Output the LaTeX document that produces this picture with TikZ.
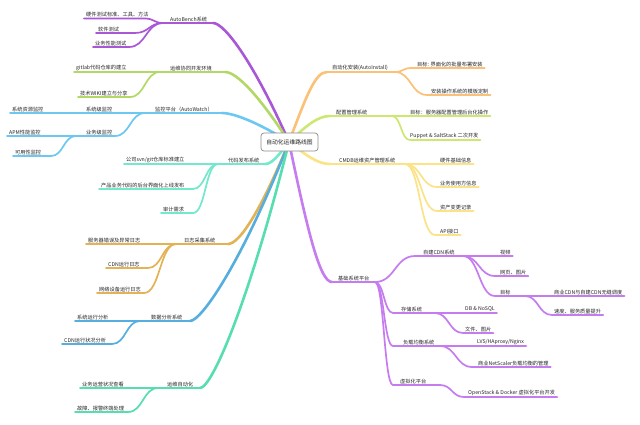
\documentclass[tikz,border=0pt]{standalone}
\usepackage{fontspec}
\setmainfont{Noto Sans CJK SC}
\usetikzlibrary{calc}
\definecolor{cA1}{HTML}{A957D6}
\definecolor{cA2}{HTML}{B2D865}
\definecolor{cA3}{HTML}{6CC8F0}
\definecolor{cA4}{HTML}{72E8CC}
\definecolor{cA5}{HTML}{E3B254}
\definecolor{cA6}{HTML}{55AEDD}
\definecolor{cA7}{HTML}{56DDB0}
\definecolor{cB1}{HTML}{FBC177}
\definecolor{cB2}{HTML}{CDE872}
\definecolor{cB3}{HTML}{FBE387}
\definecolor{cB4}{HTML}{C57CF0}
\newcommand\lcv[4]{\draw[sub,#1] (#2) -- ($(#3 |- #2)+(-#4,0)$) .. controls ($(#3 |- #2)+(-#4*0.5,0)$) and ($(#3)+(-#4*0.5,0)$) .. (#3);}
\newcommand\rcv[4]{\draw[sub,#1] (#3) .. controls ($(#3)+(#4*0.5,0)$) and ($(#3 |- #2)+(#4*0.5,0)$) .. ($(#3 |- #2)+(#4,0)$) -- (#2);}
\newcommand\ltr[5]{\draw[trunk,#1] (#2) .. controls ($(#2)+(#3,0)$) and ($(C)+(#4,#5)$) .. (C);}
\newcommand\rtr[4]{\draw[trunk,#1] (C) .. controls ($(C)+(#3,#4)$) and ($(#2)+(-12,0)$) .. (#2);}
\begin{document}
\begin{tikzpicture}[x=1pt,y=-1pt,
  lbl/.style={font=\fontsize{5.2}{6}\selectfont, text=black!85, inner xsep=2pt, inner ysep=1pt, anchor=south west},
  sub/.style={line width=1.7pt, line cap=round},
  trunk/.style={line width=2.6pt, line cap=round},
  rootbox/.style={draw=black!45, fill=white, rounded corners=3pt, line width=0.7pt, minimum width=57pt, minimum height=18pt, inner sep=1pt, font=\fontsize{5.8}{7}\selectfont, text=black!85}
]
\fill[white] (0,0) rectangle (640,424);
\useasboundingbox (0,0) rectangle (640,424);
\coordinate (C) at (289,142);
% ---------- left level 1 ----------
\node[lbl] (A1) at (168,23) {AutoBench系统};
\coordinate (JA1) at (163,23); \coordinate (RA1) at (213,23);
\node[lbl] (a1) at (84,18.5) {硬件测试标准、工具、方法};
\node[lbl] (a2) at (96,33) {软件测试};
\node[lbl] (a3) at (93,47) {业务性能测试};
\node[lbl] (A2) at (168,72) {运维协同开发环境};
\coordinate (JA2) at (160,72); \coordinate (RA2) at (225,72);
\node[lbl] (b1) at (74,72) {gitlab代码仓库的建立};
\node[lbl] (b2) at (78,97) {技术WIKI建立与分享};
\node[lbl] (A3) at (153,113) {监控平台（AutoWatch）};
\coordinate (JA3) at (145,113); \coordinate (RA3) at (222,113);
\node[lbl] (c1) at (84,113) {系统级监控};
\coordinate (Jc1) at (78,113);
\node[lbl] (c2) at (84,136) {业务级监控};
\coordinate (Jc2) at (76,136);
\node[lbl] (c11) at (10,113) {系统资源监控};
\node[lbl] (c21) at (7,136) {APM性能监控};
\node[lbl] (c22) at (13,156) {可用性监控};
\node[lbl] (A4) at (226,164) {代码发布系统};
\coordinate (JA4) at (218,164); \coordinate (RA4) at (265,164);
\node[lbl] (d1) at (124,164) {公司svn/git仓库标准建立};
\node[lbl] (d2) at (99,189) {产品业务代码的后台界面化上线发布};
\node[lbl] (d3) at (161,213) {审计需求};
\node[lbl] (A5) at (182,244) {日志采集系统};
\coordinate (JA5) at (176,244); \coordinate (RA5) at (228,244);
\node[lbl] (e1) at (86,244) {服务器错误及异常日志};
\node[lbl] (e2) at (106,268) {CDN运行日志};
\node[lbl] (e3) at (97,293) {网络设备运行日志};
\node[lbl] (A6) at (149,321) {数据分析系统};
\coordinate (JA6) at (140,321); \coordinate (RA6) at (190,321);
\node[lbl] (f1) at (75,321) {系统运行分析};
\node[lbl] (f2) at (62,344) {CDN运行状况分析};
\node[lbl] (A7) at (165,388) {运维自动化};
\coordinate (JA7) at (158,388); \coordinate (RA7) at (200,388);
\node[lbl] (g1) at (80,388) {业务运营状况查看};
\node[lbl] (g2) at (75,412) {故障、报警终端处理};
% ---------- right level 1 ----------
\node[lbl] (B1) at (330,72) {自动化安装(AutoInstall)};
\coordinate (LB1) at (327,72); \coordinate (JB1) at (395,72);
\node[lbl] (h1) at (415,68) {目标: 界面化的批量布署安装};
\node[lbl] (h2) at (429,95) {安装操作系统的模板定制};
\node[lbl] (B2) at (334,116) {配置管理系统};
\coordinate (LB2) at (330,116); \coordinate (JB2) at (392,116);
\node[lbl] (i1) at (408,116) {目标：服务器配置管理后台化操作};
\node[lbl] (i2) at (408,140) {Puppet \& SaltStack 二次开发};
\node[lbl] (B3) at (337,164) {CMDB运维资产管理系统};
\coordinate (LB3) at (330,164); \coordinate (JB3) at (405,164);
\node[lbl] (j1) at (438,164) {硬件基础信息};
\node[lbl] (j2) at (438,187) {业务使用方信息};
\node[lbl] (j3) at (438,211) {资产变更记录};
\node[lbl] (j4) at (438,235) {API接口};
\node[lbl] (B4) at (336,282) {基础系统平台};
\coordinate (LB4) at (332,282); \coordinate (JB4) at (375,282);
\node[lbl] (k1) at (421,256) {自建CDN系统};
\coordinate (Jk1) at (463,256);
\node[lbl] (k11) at (498,256) {视频};
\node[lbl] (k12) at (498,276) {网页、图片};
\node[lbl] (k13) at (498,296) {目标};
\coordinate (Jk13) at (525,296);
\node[lbl] (k131) at (552,296) {商业CDN与自建CDN无缝调度};
\node[lbl] (k132) at (552,315) {速度、服务质量提升};
\node[lbl] (k2) at (399,313) {存储系统};
\coordinate (Jk2) at (435,313);
\node[lbl] (k21) at (463,313) {DB \& NoSQL};
\node[lbl] (k22) at (463,333) {文件、图片};
\node[lbl] (k3) at (401,346) {负载均衡系统};
\coordinate (Jk3) at (440,346);
\node[lbl] (k31) at (475,346) {LVS/HAproxy/Nginx};
\node[lbl] (k32) at (476,367) {商业NetScaler负载均衡的管理};
\node[lbl] (k4) at (398,385) {虚拟化平台};
\coordinate (Jk4) at (440,385);
\node[lbl] (k41) at (466,397) {OpenStack \& Docker 虚拟化平台开发};
% ---------- trunks ----------
\ltr{cA1}{RA1}{12}{-34}{-77}
\ltr{cA2}{RA2}{12}{-29}{-45}
\ltr{cA3}{RA3}{12}{-30}{-19}
\ltr{cA4}{RA4}{7}{-11}{14}
\ltr{cA5}{RA5}{12}{-27}{66}
\ltr{cA6}{RA6}{12}{-45}{116}
\ltr{cA7}{RA7}{12}{-40}{160}
\rtr{cB1}{LB1}{17}{-45}
\rtr{cB2}{LB2}{18}{-17}
\rtr{cB3}{LB3}{18}{14}
\rtr{cB4}{LB4}{19}{91}
% ---------- left underlines and children ----------
\draw[sub,cA1] (JA1) -- (RA1);
\lcv{cA1}{a1.south west}{JA1}{18}
\lcv{cA1}{a2.south west}{JA1}{28}
\lcv{cA1}{a3.south west}{JA1}{34}
\draw[sub,cA2] (JA2) -- (RA2);
\draw[sub,cA2] (b1.south west) -- (JA2);
\lcv{cA2}{b2.south west}{JA2}{30}
\draw[sub,cA3] (JA3) -- (RA3);
\draw[sub,cA3] (Jc1) -- (JA3);
\lcv{cA3}{Jc2}{JA3}{30}
\draw[sub,cA3] (c11.south west) -- (Jc1);
\draw[sub,cA3] (c21.south west) -- (Jc2);
\lcv{cA3}{c22.south west}{Jc2}{25}
\draw[sub,cA4] (JA4) -- (RA4);
\draw[sub,cA4] (d1.south west) -- (JA4);
\lcv{cA4}{d2.south west}{JA4}{25}
\lcv{cA4}{d3.south west}{JA4}{25}
\draw[sub,cA5] (JA5) -- (RA5);
\draw[sub,cA5] (e1.south west) -- (JA5);
\lcv{cA5}{e2.south west}{JA5}{28}
\lcv{cA5}{e3.south west}{JA5}{32}
\draw[sub,cA6] (JA6) -- (RA6);
\draw[sub,cA6] (f1.south west) -- (JA6);
\lcv{cA6}{f2.south west}{JA6}{28}
\draw[sub,cA7] (JA7) -- (RA7);
\draw[sub,cA7] (g1.south west) -- (JA7);
\lcv{cA7}{g2.south west}{JA7}{30}
% ---------- right underlines and children ----------
\draw[sub,cB1] (LB1) -- (JB1);
\rcv{cB1}{h1.south east}{JB1}{16}
\rcv{cB1}{h2.south east}{JB1}{32}
\draw[sub,cB2] (LB2) -- (JB2);
\draw[sub,cB2] (JB2) -- (i1.south east);
\rcv{cB2}{i2.south east}{JB2}{18}
\draw[sub,cB3] (LB3) -- (JB3);
\draw[sub,cB3] (JB3) -- (j1.south east);
\rcv{cB3}{j2.south east}{JB3}{32}
\rcv{cB3}{j3.south east}{JB3}{32}
\rcv{cB3}{j4.south east}{JB3}{30}
\draw[sub,cB4] (LB4) -- (JB4);
\rcv{cB4}{Jk1}{JB4}{40}
\draw[sub,cB4] (Jk1) -- (k11.south east);
\rcv{cB4}{k12.south east}{Jk1}{32}
\rcv{cB4}{Jk13}{Jk1}{32}
\draw[sub,cB4] (Jk13) -- (k131.south east);
\rcv{cB4}{k132.south east}{Jk13}{27}
\rcv{cB4}{Jk2}{JB4}{18}
\draw[sub,cB4] (Jk2) -- (k21.south east);
\rcv{cB4}{k22.south east}{Jk2}{28}
\rcv{cB4}{Jk3}{JB4}{18}
\draw[sub,cB4] (Jk3) -- (k31.south east);
\rcv{cB4}{k32.south east}{Jk3}{32}
\rcv{cB4}{Jk4}{JB4}{18}
\rcv{cB4}{k41.south east}{Jk4}{24}
% ---------- root ----------
\node[rootbox] (root) at (289.5,142) {自动化运维路线图};
\end{tikzpicture}
\end{document}
